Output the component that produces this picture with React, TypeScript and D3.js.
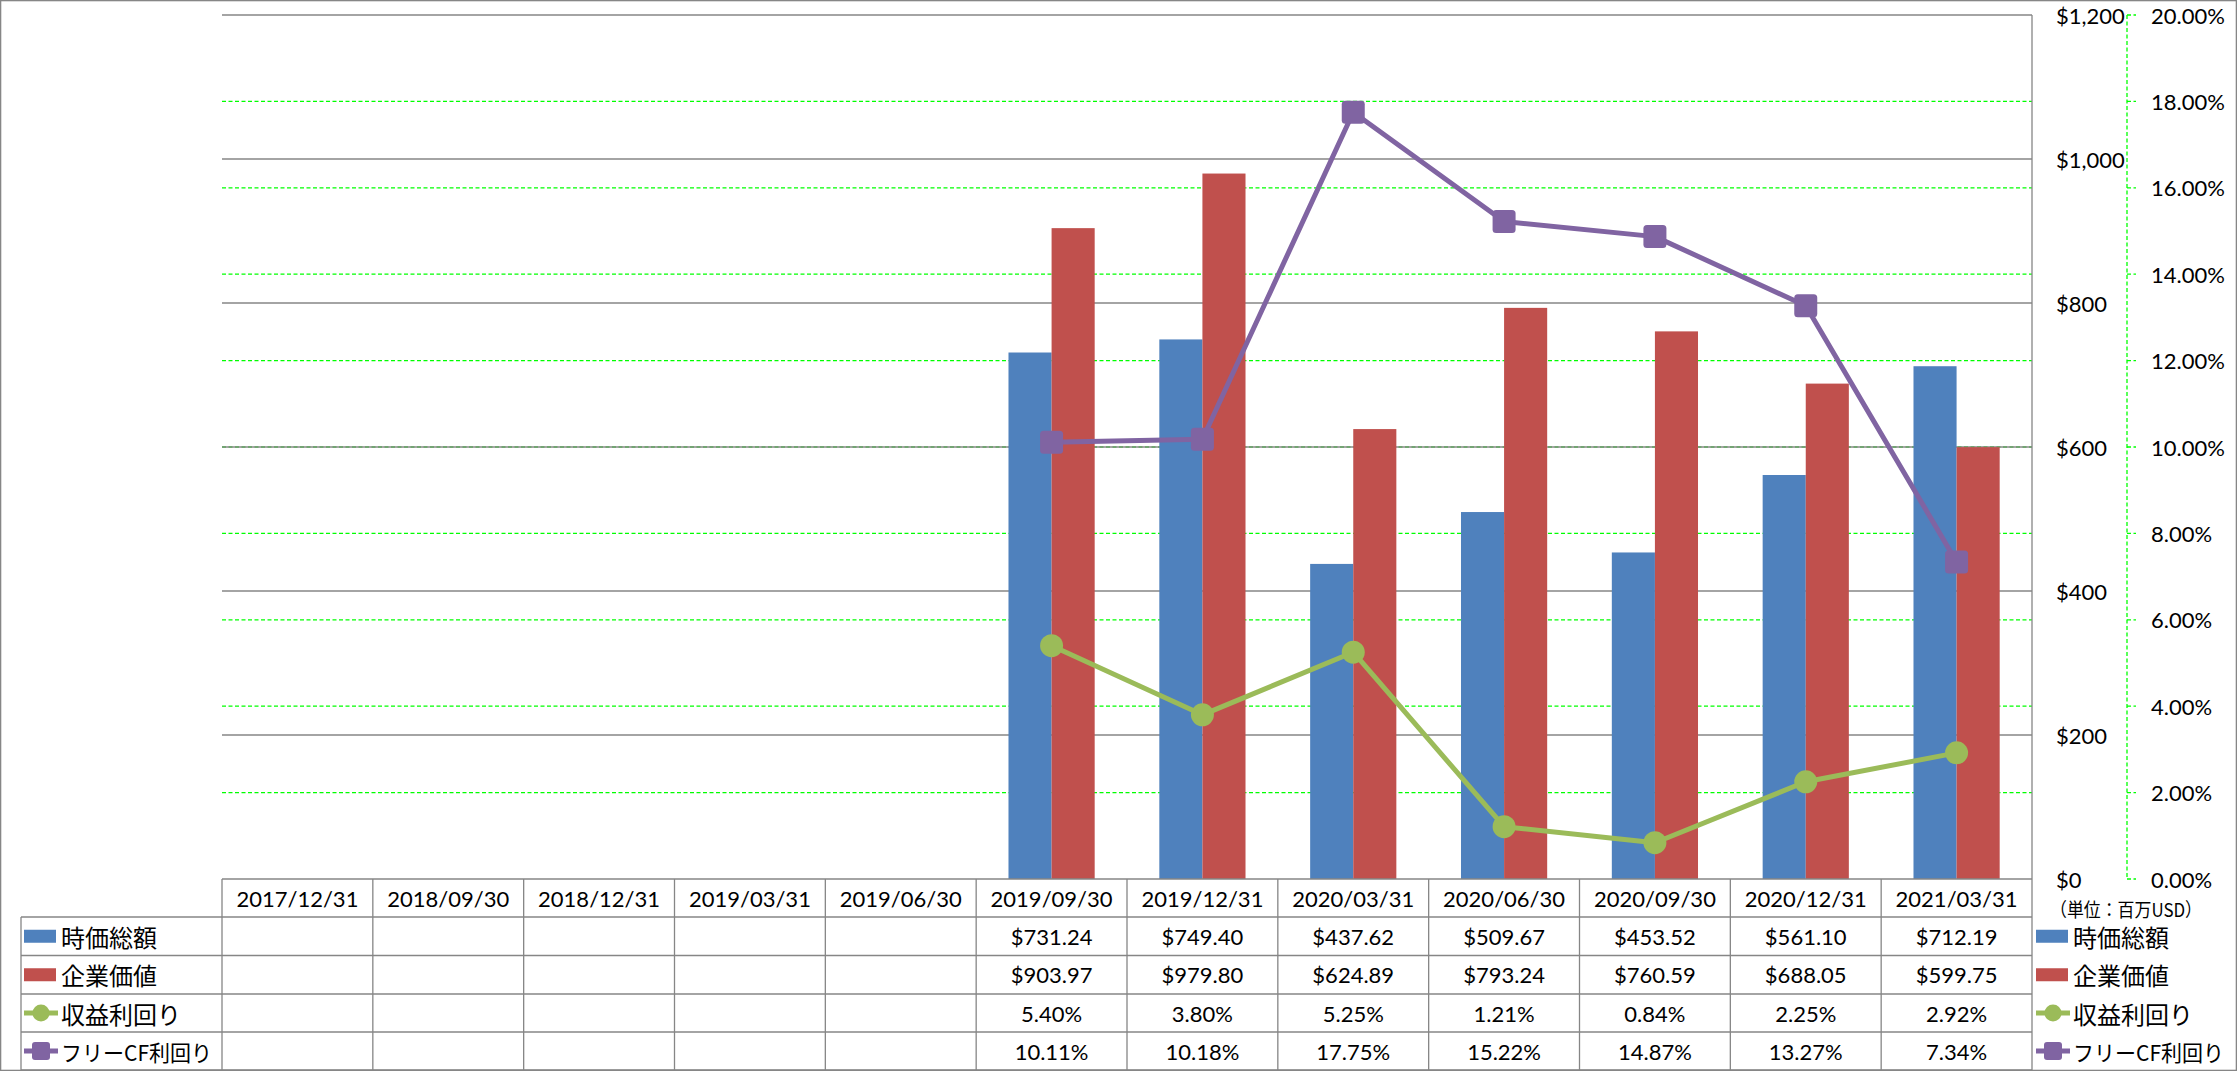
import React from "react";
import * as d3 from "d3";

const categories = [
  "2017/12/31", "2018/09/30", "2018/12/31", "2019/03/31", "2019/06/30", "2019/09/30",
  "2019/12/31", "2020/03/31", "2020/06/30", "2020/09/30", "2020/12/31", "2021/03/31",
];
const marketCap: (number | null)[] = [null, null, null, null, null, 731.24, 749.40, 437.62, 509.67, 453.52, 561.10, 712.19];
const enterpriseValue: (number | null)[] = [null, null, null, null, null, 903.97, 979.80, 624.89, 793.24, 760.59, 688.05, 599.75];
const earningsYield: (number | null)[] = [null, null, null, null, null, 5.40, 3.80, 5.25, 1.21, 0.84, 2.25, 2.92];
const fcfYield: (number | null)[] = [null, null, null, null, null, 10.11, 10.18, 17.75, 15.22, 14.87, 13.27, 7.34];
const leftTicks = [0, 200, 400, 600, 800, 1000, 1200];
const rightTicks = [0, 2, 4, 6, 8, 10, 12, 14, 16, 18, 20];
const seriesNames = ["時価総額", "企業価値", "収益利回り", "フリーCF利回り"];
const unitLabel = "（単位：百万USD）";

const W = 2237, H = 1071;
const PL = 222, PR = 2032, PT = 15, PB = 879;
const rowEdges = [879, 917, 955.5, 994, 1032, 1070];
const TABLE_LEFT = 21;

const BLUE = "#4F81BD", RED = "#C0504D", GREEN = "#9BBB59", PURPLE = "#8064A2";
const GRID = "#868686", DASH = "#00FF00";
const NUM_FONT = "Lato, 'Liberation Sans', sans-serif";
const JP_FONT = "'Noto Sans CJK JP', sans-serif";

export default function App() {
  const x = d3.scaleBand<string>().domain(categories).range([PL, PR]).paddingInner(0).paddingOuter(0);
  const xs = d3.scaleBand<string>().domain(["mc", "ev"]).range([0, x.step()]).paddingInner(0).paddingOuter(0.75);
  const yL = d3.scaleLinear().domain([0, 1200]).range([PB, PT]);
  const yR = d3.scaleLinear().domain([0, 20]).range([PB, PT]);
  const fmtL = d3.format("$,.0f");
  const fmtR = (v: number) => d3.format(".2f")(v) + "%";
  const fmtMoney = d3.format("$.2f");
  const cx = (c: string) => (x(c) as number) + x.bandwidth() / 2;

  const line = d3
    .line<[string, number | null]>()
    .defined((d) => d[1] != null)
    .x((d) => cx(d[0]))
    .y((d) => yR(d[1] as number));

  const greenPts = categories.map((c, i) => [c, earningsYield[i]] as [string, number | null]);
  const purplePts = categories.map((c, i) => [c, fcfYield[i]] as [string, number | null]);

  const rowMid = (r: number) => (rowEdges[r] + rowEdges[r + 1]) / 2;
  const tableRows: { vals: (number | null)[]; fmt: (v: number) => string }[] = [
    { vals: marketCap, fmt: fmtMoney },
    { vals: enterpriseValue, fmt: fmtMoney },
    { vals: earningsYield, fmt: fmtR },
    { vals: fcfYield, fmt: fmtR },
  ];

  const legendKey = (i: number, kx: number, ky: number) => {
    if (i === 0 || i === 1) {
      return <rect x={kx} y={ky - 6.5} width={32} height={13} fill={i === 0 ? BLUE : RED} />;
    }
    const col = i === 2 ? GREEN : PURPLE;
    return (
      <g>
        <line x1={kx} x2={kx + 34} y1={ky} y2={ky} stroke={col} strokeWidth={5} />
        {i === 2 ? (
          <circle cx={kx + 17} cy={ky} r={8.5} fill={col} />
        ) : (
          <rect x={kx + 8} y={ky - 9} width={18} height={18} rx={3} fill={col} />
        )}
      </g>
    );
  };

  const legendLabel = (n: string, i: number, tx: number) => (
    <text
      x={tx}
      y={rowMid(i + 1)}
      dominantBaseline="central"
      fontFamily={JP_FONT}
      fontSize={i === 3 ? 21.5 : 24}
      fill="#000"
      {...(i === 3 ? { textLength: 151, lengthAdjust: "spacingAndGlyphs" } : {})}
    >
      {n}
    </text>
  );

  return (
    <svg width={W} height={H} style={{ position: "absolute", left: 0, top: 0, background: "#fff" }}>
      <rect x={0} y={0} width={W} height={H} fill="#fff" />
      {rightTicks.filter((t) => t !== 0 && t !== 20).map((t) => (
        <line key={"pg" + t} x1={PL} x2={PR} y1={yR(t)} y2={yR(t)} stroke={DASH} strokeWidth={1.3} strokeDasharray="4,2.5" />
      ))}
      {leftTicks.filter((t) => t !== 0).map((t) => (
        <line key={"vg" + t} x1={PL} x2={PR} y1={yL(t)} y2={yL(t)} stroke={GRID} strokeWidth={1.3} />
      ))}
      {categories.map((c, i) => (
        <g key={"b" + c}>
          {marketCap[i] != null && (
            <rect x={(x(c) as number) + (xs("mc") as number)} y={yL(marketCap[i] as number)} width={xs.bandwidth()} height={PB - yL(marketCap[i] as number)} fill={BLUE} />
          )}
          {enterpriseValue[i] != null && (
            <rect x={(x(c) as number) + (xs("ev") as number)} y={yL(enterpriseValue[i] as number)} width={xs.bandwidth()} height={PB - yL(enterpriseValue[i] as number)} fill={RED} />
          )}
        </g>
      ))}
      <path d={line(greenPts) || ""} fill="none" stroke={GREEN} strokeWidth={5} strokeLinejoin="round" strokeLinecap="round" />
      <path d={line(purplePts) || ""} fill="none" stroke={PURPLE} strokeWidth={5} strokeLinejoin="round" strokeLinecap="round" />
      {greenPts.filter((d) => d[1] != null).map((d) => (
        <circle key={"gc" + d[0]} cx={cx(d[0])} cy={yR(d[1] as number)} r={11.5} fill={GREEN} />
      ))}
      {purplePts.filter((d) => d[1] != null).map((d) => (
        <rect key={"pr" + d[0]} x={cx(d[0]) - 11.5} y={yR(d[1] as number) - 11.5} width={23} height={23} rx={3.5} fill={PURPLE} />
      ))}
      <line x1={PR} x2={PR} y1={PT} y2={rowEdges[5]} stroke={GRID} strokeWidth={1.3} />
      {leftTicks.map((t) => (
        <text key={"lt" + t} x={2056} y={yL(t)} dominantBaseline="central" fontFamily={NUM_FONT} fontSize={22} fill="#000">
          {fmtL(t)}
        </text>
      ))}
      <line x1={2127} x2={2127} y1={PT} y2={PB} stroke={DASH} strokeWidth={1.3} strokeDasharray="4,2.5" />
      {rightTicks.map((t) => (
        <g key={"rt" + t}>
          <line x1={2127} x2={2136} y1={yR(t)} y2={yR(t)} stroke={DASH} strokeWidth={1.3} strokeDasharray="4,2.5" />
          <text x={2151} y={yR(t)} dominantBaseline="central" fontFamily={NUM_FONT} fontSize={22} fill="#000">
            {fmtR(t)}
          </text>
        </g>
      ))}
      <line x1={PL} x2={PR} y1={rowEdges[0]} y2={rowEdges[0]} stroke={GRID} strokeWidth={1.3} />
      {rowEdges.slice(1).map((y, i) => (
        <line key={"rh" + i} x1={TABLE_LEFT} x2={PR} y1={y} y2={y} stroke={GRID} strokeWidth={1.3} />
      ))}
      <line x1={TABLE_LEFT} x2={TABLE_LEFT} y1={rowEdges[1]} y2={rowEdges[5]} stroke={GRID} strokeWidth={1.3} />
      {categories.map((c) => (
        <line key={"cv" + c} x1={x(c) as number} x2={x(c) as number} y1={rowEdges[0]} y2={rowEdges[5]} stroke={GRID} strokeWidth={1.3} />
      ))}
      {categories.map((c) => (
        <text key={"hd" + c} x={cx(c)} y={rowMid(0)} textAnchor="middle" dominantBaseline="central" fontFamily={NUM_FONT} fontSize={22} fill="#000">
          {c}
        </text>
      ))}
      {tableRows.map((row, r) =>
        categories.map((c, i) =>
          row.vals[i] != null ? (
            <text key={"tv" + r + c} x={cx(c)} y={rowMid(r + 1)} textAnchor="middle" dominantBaseline="central" fontFamily={NUM_FONT} fontSize={22} fill="#000">
              {row.fmt(row.vals[i] as number)}
            </text>
          ) : null
        )
      )}
      {seriesNames.map((n, i) => (
        <g key={"tl" + n}>
          {legendKey(i, 24, rowMid(i + 1))}
          {legendLabel(n, i, 61)}
        </g>
      ))}
      <text x={2050} y={908} dominantBaseline="central" fontFamily={JP_FONT} fontSize={19} fill="#000" textLength={152} lengthAdjust="spacingAndGlyphs">
        {unitLabel}
      </text>
      {seriesNames.map((n, i) => (
        <g key={"rl" + n}>
          {legendKey(i, 2036, rowMid(i + 1))}
          {legendLabel(n, i, 2073)}
        </g>
      ))}
      <rect x={0.65} y={0.65} width={W - 1.3} height={H - 1.3} fill="none" stroke={GRID} strokeWidth={1.3} />
    </svg>
  );
}
